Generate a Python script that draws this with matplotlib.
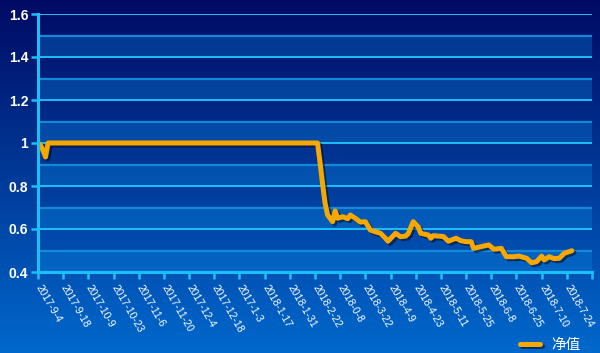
import numpy as np
import matplotlib
matplotlib.use("Agg")
import matplotlib.pyplot as plt
import matplotlib.patheffects as pe
from matplotlib.colors import LinearSegmentedColormap

plt.rcParams['font.family'] = ['Liberation Sans', 'Noto Sans CJK SC', 'DejaVu Sans']

# ---- data ----
tick_labels = ['2017-9-4', '2017-9-18', '2017-10-9', '2017-10-23', '2017-11-6',
               '2017-11-20', '2017-12-4', '2017-12-18', '2017-1-3', '2018-1-17',
               '2018-1-31', '2018-2-22', '2018-0-8', '2018-3-22', '2018-4-9',
               '2018-4-23', '2018-5-11', '2018-5-25', '2018-6-8', '2018-6-25',
               '2018-7-10', '2018-7-24']
day_index = [0, 1, 2, 3, 4, 111, 112, 113, 114, 115, 117, 118, 119, 121, 123, 124,
             126, 128, 130, 132, 134, 136, 138, 139, 142, 144, 146, 147, 149, 151,
             152, 155, 156, 157, 161, 163, 166, 168, 170, 172, 173, 176, 179, 181,
             184, 186, 189, 191, 194, 196, 198, 200, 201, 203, 205, 207, 209, 212]
nav = [1.0, 0.99, 0.965, 0.935, 1.0, 1.0, 0.91, 0.81, 0.72, 0.665, 0.634, 0.684,
       0.65, 0.657, 0.648, 0.665, 0.65, 0.632, 0.634, 0.595, 0.587, 0.58, 0.557,
       0.543, 0.58, 0.564, 0.567, 0.578, 0.634, 0.61, 0.58, 0.572, 0.557, 0.569,
       0.565, 0.543, 0.557, 0.545, 0.541, 0.541, 0.51, 0.518, 0.526, 0.506, 0.51,
       0.471, 0.471, 0.474, 0.464, 0.443, 0.448, 0.474, 0.456, 0.471, 0.462, 0.464,
       0.487, 0.499]
series_name = '净值'

# ---- figure ----
fig = plt.figure(figsize=(6.0, 3.53), dpi=100)

# background gradient
bg = fig.add_axes([0, 0, 1, 1], zorder=-10)
cmap_bg = LinearSegmentedColormap.from_list('bg', ['#000a64', '#003a99', '#0068cc'])
grad = np.linspace(0, 1, 256).reshape(-1, 1)
bg.imshow(grad, aspect='auto', cmap=cmap_bg, extent=[0, 1, 0, 1], origin='upper')
bg.set_axis_off()

ax = fig.add_axes([38/600, 1 - 272/353, 554/600, 258/353])
ax.patch.set_alpha(0)

ax.set_xlim(0, 220)
ax.set_ylim(0.4, 1.6)

# alternating lighter bands
for lo in np.arange(0.4, 1.6, 0.2):
    ax.axhspan(lo, lo + 0.1, color='#0a8ee6', alpha=0.3, lw=0, zorder=0)
# minor grid
for yv in np.arange(0.5, 1.6, 0.2):
    ax.axhline(yv, color='#138ad8', lw=1.6, zorder=1)
# major grid
for yv in np.arange(0.6, 1.61, 0.2):
    ax.axhline(yv, color='#1cc0f8', lw=1.4, zorder=1)

line, = ax.plot(day_index, nav, color='#f6a800', lw=3.6, solid_joinstyle='round',
                solid_capstyle='round', zorder=5, label=series_name)
line.set_path_effects([pe.SimpleLineShadow(offset=(1.5, -1.5), shadow_color='#000820', alpha=0.55),
                       pe.Normal()])

# spines
for s in ['top', 'right']:
    ax.spines[s].set_visible(False)
for s in ['left', 'bottom']:
    ax.spines[s].set_color('#1cc0f8')
    ax.spines[s].set_linewidth(2.2)
    ax.spines[s].set_zorder(6)

ax.set_yticks(np.arange(0.4, 1.61, 0.2))
ax.set_yticklabels(['0.4', '0.6', '0.8', '1', '1.2', '1.4', '1.6'])
ax.tick_params(axis='y', colors='#1cc0f8', length=5, width=1.8, pad=2,
               labelcolor='white', labelsize=10)
for t in ax.get_yticklabels():
    t.set_fontweight('bold')

ax.set_xticks(np.arange(0, 221, 10))
ax.set_xticklabels(tick_labels + [''])
ax.tick_params(axis='x', colors='#1cc0f8', length=5, width=1.8, pad=5,
               labelcolor='white', labelsize=7.5)
for t in ax.get_xticklabels():
    t.set_rotation(-60)
    t.set_rotation_mode('anchor')
    t.set_ha('left')
    t.set_va('center')

leg = fig.legend(handles=[line], labels=[series_name], loc='lower right',
                 bbox_to_anchor=(0.99, -0.035), frameon=False, handlelength=1.4,
                 prop={'family': ['Noto Sans CJK SC', 'DejaVu Sans'], 'size': 10.5})
for txt in leg.get_texts():
    txt.set_color('white')

fig.savefig('out.png', dpi=100)
